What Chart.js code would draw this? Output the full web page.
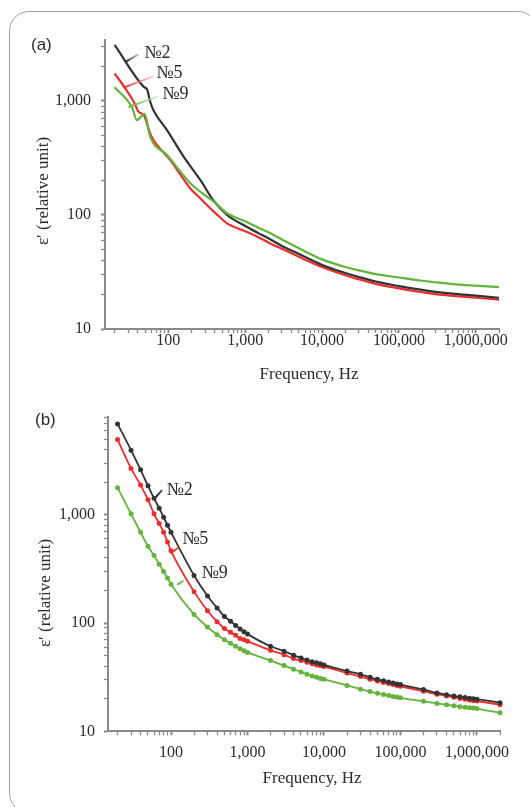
<!DOCTYPE html>
<html><head><meta charset="utf-8">
<script src="https://cdn.jsdelivr.net/npm/chart.js@4.4.1/dist/chart.umd.min.js"></script>
<style>
html,body{margin:0;padding:0;background:#fff;}
#page{position:relative;width:530px;height:807px;overflow:hidden;background:#fff;}
#frame{position:absolute;left:9px;top:11px;width:529px;height:802px;border:1px solid #a0a0a0;border-radius:20px;box-sizing:border-box;}
#ca{position:absolute;left:0;top:0;}
#cb{position:absolute;left:0;top:400px;}
</style></head><body>
<div id="page"><div id="frame"></div>
<canvas id="ca" width="530" height="400"></canvas>
<canvas id="cb" width="530" height="407"></canvas>
</div>
<script>
// ---------- Panel (a) data ----------
const freqA2 = [20, 48, 53, 58, 64, 96, 158, 260, 390, 580, 1000, 1500, 2000, 3000, 5000, 10000, 20000, 30000, 50000, 100000, 200000, 300000, 500000, 1000000, 2000000];
const epsA2  = [3100, 1330, 1260, 990, 830, 555, 325, 203, 133, 100, 80, 69, 62.5, 53.5, 45.5, 36.5, 31, 28.6, 26.1, 23.8, 22, 21.2, 20.4, 19.6, 18.8];
const freqA5 = [20, 27.5, 35.5, 41, 48, 58, 64, 106, 193, 260, 390, 450, 580, 1000, 1500, 2000, 3000, 5000, 10000, 20000, 30000, 50000, 100000, 200000, 300000, 500000, 1000000, 2000000];
const epsA5  = [1750, 1290, 985, 805, 750, 520, 455, 303, 171, 140, 107, 98, 84.5, 72, 63.5, 57.5, 50.5, 43, 35, 29.6, 27.3, 24.9, 22.7, 21, 20.2, 19.5, 18.8, 18.1];
const freqA9 = [20, 33.7, 39, 49, 58, 96, 193, 260, 390, 580, 1000, 1500, 2000, 3000, 5000, 10000, 20000, 30000, 50000, 100000, 200000, 300000, 500000, 1000000, 2000000];
const epsA9  = [1320, 880, 680, 770, 486, 336, 190, 160, 131, 103.5, 88, 77, 70.5, 61, 51, 40.8, 35, 32.7, 30.3, 28.3, 26.5, 25.7, 24.8, 24, 23.3];

// ---------- Panel (b) data ----------
const freqB = [20, 30, 40, 50, 60, 70, 80, 90,
  100, 200, 300, 400, 500, 600, 700, 800, 900,
  1000, 2000, 3000, 4000, 5000, 6000, 7000, 8000, 9000,
  10000, 20000, 30000, 40000, 50000, 60000, 70000, 80000, 90000,
  100000, 200000, 300000, 400000, 500000, 600000, 700000, 800000, 900000,
  1000000, 2000000];
const epsB2 = [6900, 3950, 2600, 1850, 1420, 1150, 950, 800,
  690, 275, 178, 138, 115, 104, 95, 88, 83,
  79, 61, 55, 50.5, 47.5, 45.5, 44, 43, 42,
  41, 36, 33.6, 31.5, 30.2, 29.3, 28.5, 27.9, 27.4,
  27, 24.3, 22.6, 21.8, 21.2, 20.8, 20.5, 20.2, 20,
  19.8, 18.4];
const epsB5 = [4950, 2680, 1880, 1380, 1020, 830, 690, 560,
  465, 195, 130, 103, 89, 82, 77, 72, 70,
  68, 56, 51, 47, 45, 43.5, 42, 41, 40.3,
  39.6, 34.5, 32, 30.3, 29.2, 28.3, 27.6, 27, 26.5,
  26, 23.5, 22, 21.2, 20.6, 20.1, 19.8, 19.5, 19.2,
  19, 17.6];
const epsB9 = [1780, 1020, 690, 512, 420, 350, 300, 260,
  228, 120, 92, 78, 70, 65, 61, 58, 55.5,
  53.5, 45, 40.5, 37.5, 35.3, 33.7, 32.5, 31.5, 30.8,
  30.2, 26.5, 24.5, 23.3, 22.5, 21.9, 21.4, 21, 20.7,
  20.4, 18.9, 18.1, 17.6, 17.2, 16.9, 16.7, 16.5, 16.4,
  16.2, 14.8];

// ---------- Axis ticks ----------
const xTickValues = [20, 30, 40, 50, 60, 70, 80, 90,
  100, 200, 300, 400, 500, 600, 700, 800, 900,
  1000, 2000, 3000, 4000, 5000, 6000, 7000, 8000, 9000,
  10000, 20000, 30000, 40000, 50000, 60000, 70000, 80000, 90000,
  100000, 200000, 300000, 400000, 500000, 600000, 700000, 800000, 900000,
  1000000, 2000000];
const xTickLabelValues = [100, 1000, 10000, 100000, 1000000];
const xTickLabels = ['100', '1,000', '10,000', '100,000', '1,000,000'];
const yTickValuesA = [10, 20, 30, 40, 50, 60, 70, 80, 90, 100, 200, 300, 400, 500, 600, 700, 800, 900, 1000, 2000, 3000];
const yTickValuesB = [10, 20, 30, 40, 50, 60, 70, 80, 90, 100, 200, 300, 400, 500, 600, 700, 800, 900, 1000, 2000, 3000, 4000, 5000, 6000, 7000, 8000];
const yTickLabelValues = [10, 100, 1000];
const yTickLabels = ['10', '100', '1,000'];
const seriesNames = ['№2', '№5', '№9'];

const C2 = '#333333', C5 = '#ee2c2c', C9 = '#62b43a';
const SERIF = "'Liberation Serif', 'Times New Roman', serif";
const SANS = "'Liberation Sans', Arial, sans-serif";

const pts = (xs, ys) => xs.map((x, i) => ({x: x, y: ys[i]}));

const extras = {
  id: 'extras',
  afterDatasetsDraw(chart, args, o) {
    const ctx = chart.ctx, xs = chart.scales.x, ys = chart.scales.y;
    ctx.save();
    (o.pointers || []).forEach(p => {
      const x1 = xs.getPixelForValue(p.from[0]), y1 = ys.getPixelForValue(p.from[1]);
      const x2 = xs.getPixelForValue(p.to[0]), y2 = ys.getPixelForValue(p.to[1]);
      const g = ctx.createLinearGradient(x1, y1, x2, y2);
      g.addColorStop(0, p.color); g.addColorStop(1, p.fade);
      ctx.strokeStyle = g; ctx.lineWidth = p.width; ctx.lineCap = 'round';
      ctx.beginPath(); ctx.moveTo(x1, y1); ctx.lineTo(x2, y2); ctx.stroke();
    });
    ctx.fillStyle = '#2b2b2b';
    ctx.font = '18px ' + SERIF;
    ctx.textBaseline = 'middle'; ctx.textAlign = 'left';
    (o.notes || []).forEach(n => {
      ctx.fillText(n.text, xs.getPixelForValue(n.at[0]), ys.getPixelForValue(n.at[1]));
    });
    ctx.font = '17px ' + SERIF;
    ctx.textAlign = 'center';
    ctx.fillText('Frequency, Hz', o.xTitle[0], o.xTitle[1]);
    ctx.save();
    ctx.translate(o.yTitle[0], o.yTitle[1]);
    ctx.rotate(-Math.PI / 2);
    ctx.fillText('ε′ (relative unit)', 0, 0);
    ctx.restore();
    ctx.font = '17px ' + SANS;
    ctx.textAlign = 'left';
    ctx.fillText(o.panel, o.panelPos[0], o.panelPos[1]);
    ctx.restore();
  }
};

function xScale(h, pad) {
  return {
    type: 'logarithmic', min: 15, max: 2000000, bounds: 'data',
    afterBuildTicks: s => { s.ticks = xTickValues.map(v => ({value: v, major: xTickLabelValues.includes(v)})); },
    afterFit: s => { s.height = h; },
    ticks: {
      autoSkip: false, maxRotation: 0, minRotation: 0, padding: pad, color: '#2b2b2b',
      font: {family: SERIF, size: 16, lineHeight: 1},
      callback: v => { const i = xTickLabelValues.indexOf(v); return i >= 0 ? xTickLabels[i] : ''; }
    },
    grid: {display: true, drawOnChartArea: false, drawTicks: true, tickLength: 4,
      tickColor: '#8a8a8a', tickWidth: c => (c.tick && xTickLabelValues.includes(c.tick.value)) ? 2 : 1.3},
    border: {display: true, color: '#8a8a8a', width: 2}
  };
}
function yScale(w, max, vals, pad) {
  return {
    type: 'logarithmic', min: 10, max: max, bounds: 'data',
    afterBuildTicks: s => { s.ticks = vals.map(v => ({value: v, major: yTickLabelValues.includes(v)})); },
    afterFit: s => { s.width = w; },
    ticks: {
      autoSkip: false, padding: pad, color: '#2b2b2b',
      font: {family: SERIF, size: 16, lineHeight: 1},
      callback: v => { const i = yTickLabelValues.indexOf(v); return i >= 0 ? yTickLabels[i] : ''; }
    },
    grid: {display: true, drawOnChartArea: false, drawTicks: true, tickLength: 4,
      tickColor: '#8a8a8a', tickWidth: c => (c.tick && yTickLabelValues.includes(c.tick.value)) ? 2 : 1.3},
    border: {display: true, color: '#8a8a8a', width: 2}
  };
}

const common = {
  responsive: false, animation: false, devicePixelRatio: 1,
  plugins: {legend: {display: false}, tooltip: {enabled: false}},
  events: []
};

new Chart(document.getElementById('ca'), {
  type: 'line',
  data: {datasets: [
    {label: seriesNames[2], data: pts(freqA9, epsA9), borderColor: C9, borderWidth: 2.2, pointRadius: 0, cubicInterpolationMode: 'monotone', fill: false},
    {label: seriesNames[0], data: pts(freqA2, epsA2), borderColor: C2, borderWidth: 2.2, pointRadius: 0, cubicInterpolationMode: 'monotone', fill: false},
    {label: seriesNames[1], data: pts(freqA5, epsA5), borderColor: C5, borderWidth: 2.2, pointRadius: 0, cubicInterpolationMode: 'monotone', fill: false}
  ]},
  options: Object.assign({}, common, {
    layout: {padding: {left: 0, right: 31, top: 40.4, bottom: 0}},
    scales: {x: xScale(71, 0), y: yScale(105, 3400, yTickValuesA, 10)},
    plugins: Object.assign({}, common.plugins, {extras: {
      panel: '(a)', panelPos: [31, 45],
      xTitle: [309, 375], yTitle: [44, 191],
      notes: [
        {text: seriesNames[0], at: [48.6, 2636]},
        {text: seriesNames[1], at: [69.8, 1762]},
        {text: seriesNames[2], at: [83.6, 1151]}
      ],
      pointers: [
        {from: [28.1, 2213], to: [39.8, 2535], color: 'rgba(40,40,40,1)', fade: 'rgba(120,120,120,0.5)', width: 2},
        {from: [26.7, 1318], to: [62.4, 1634], color: 'rgba(238,44,44,1)', fade: 'rgba(250,170,170,0.6)', width: 2},
        {from: [31.0, 891], to: [72.5, 1092], color: 'rgba(98,180,58,1)', fade: 'rgba(190,230,170,0.6)', width: 2}
      ]
    }})
  }),
  plugins: [extras]
});

new Chart(document.getElementById('cb'), {
  type: 'line',
  data: {datasets: [
    {label: seriesNames[0], data: pts(freqB, epsB2), borderColor: C2, backgroundColor: C2, borderWidth: 1.8, pointRadius: 2.5, pointBorderWidth: 0, pointBackgroundColor: C2, cubicInterpolationMode: 'monotone', fill: false, clip: false},
    {label: seriesNames[1], data: pts(freqB, epsB5), borderColor: C5, backgroundColor: C5, borderWidth: 1.8, pointRadius: 2.5, pointBorderWidth: 0, pointBackgroundColor: C5, cubicInterpolationMode: 'monotone', fill: false, clip: false},
    {label: seriesNames[2], data: pts(freqB, epsB9), borderColor: C9, backgroundColor: C9, borderWidth: 1.8, pointRadius: 2.5, pointBorderWidth: 0, pointBackgroundColor: C9, cubicInterpolationMode: 'monotone', fill: false, clip: false}
  ]},
  options: Object.assign({}, common, {
    layout: {padding: {left: 0, right: 30, top: 14.9, bottom: 0}},
    scales: {x: xScale(75.7, 9), y: yScale(108, 8000, yTickValuesB, 9)},
    plugins: Object.assign({}, common.plugins, {extras: {
      panel: '(b)', panelPos: [35, 20],
      xTitle: [312, 379], yTitle: [46, 193],
      notes: [
        {text: seriesNames[0], at: [87.3, 1679]},
        {text: seriesNames[1], at: [140, 600]},
        {text: seriesNames[2], at: [250.6, 289]}
      ],
      pointers: [
        {from: [64.6, 1476], to: [75.2, 1672], color: 'rgba(30,30,30,1)', fade: 'rgba(60,60,60,0.9)', width: 2},
        {from: [100.6, 444], to: [126.5, 501], color: 'rgba(238,44,44,1)', fade: 'rgba(238,44,44,0.8)', width: 2},
        {from: [122.7, 228], to: [142.6, 244], color: 'rgba(98,180,58,1)', fade: 'rgba(98,180,58,0.8)', width: 2}
      ]
    }})
  }),
  plugins: [extras]
});
</script>
</body></html>
